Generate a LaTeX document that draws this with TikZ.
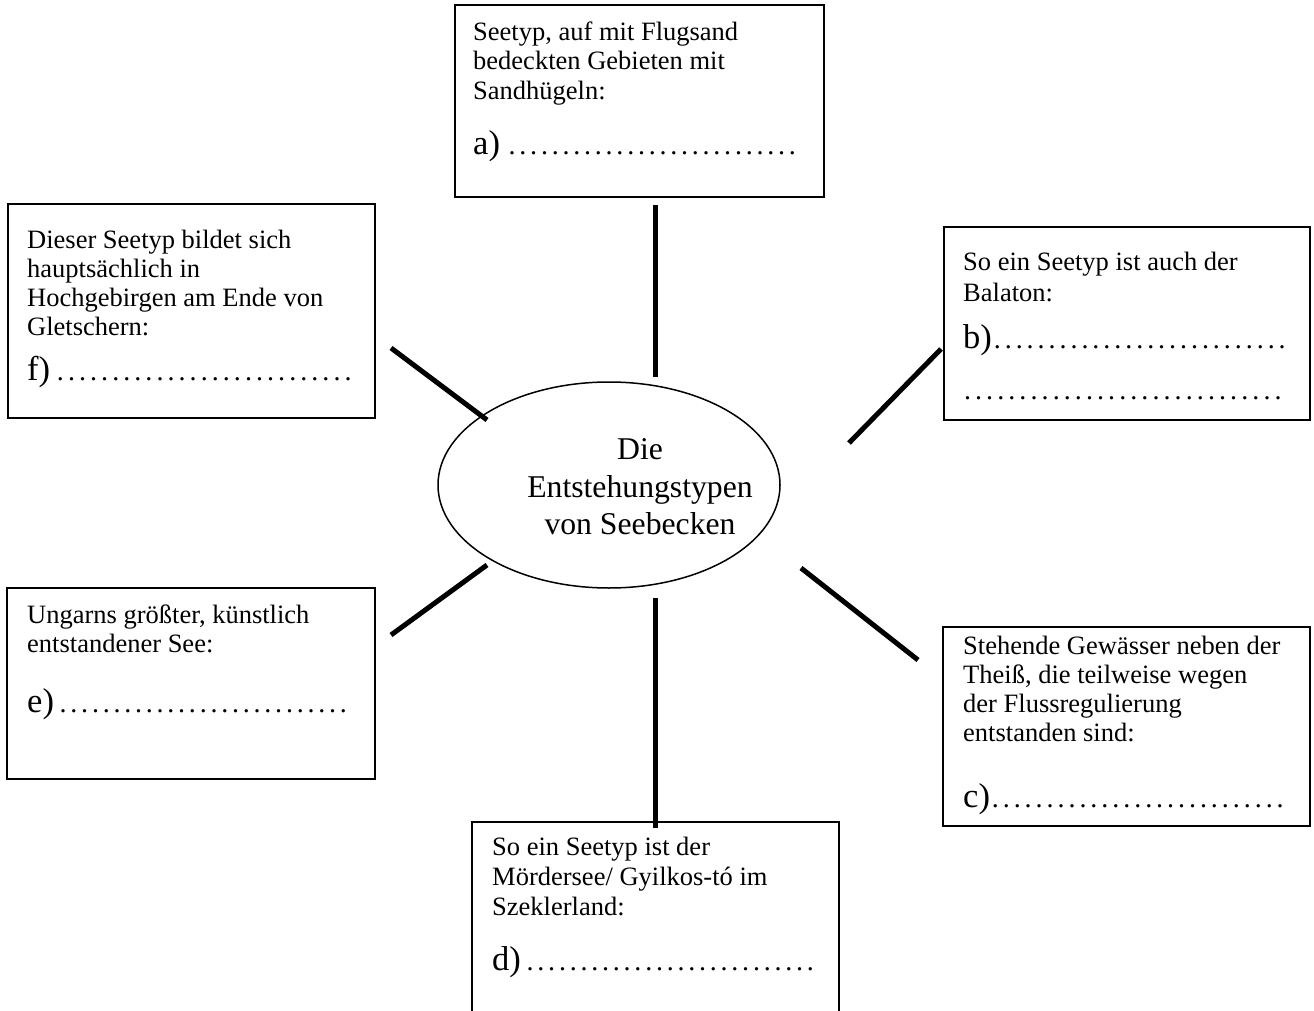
\documentclass[tikz,border=0pt]{standalone}
\usepackage{fontspec}
\setmainfont{Liberation Serif}
\usetikzlibrary{shapes.geometric}
\newcommand\dotrow[1]{\hbox to #1{\xleaders\hbox to 10.77pt{\hss.\hss}\hfill}}
\tikzset{
  box/.style={draw=black, line width=1.5pt, rectangle, inner sep=0pt},
  txt/.style={anchor=base west, inner sep=0pt, font=\fontsize{26.5pt}{29.5pt}\selectfont},
  ans/.style={anchor=base west, inner sep=0pt, font=\fontsize{34.5pt}{36pt}\selectfont},
  dots/.style={anchor=base west, inner sep=0pt, font=\fontsize{28pt}{30pt}\selectfont},
  spoke/.style={line width=5pt},
  hub/.style={draw=black, line width=1.5pt, ellipse, minimum width=342pt, minimum height=206pt, inner sep=0pt},
  hubtxt/.style={anchor=base, inner sep=0pt, font=\fontsize{31.7pt}{37pt}\selectfont}
}
\begin{document}
\begin{tikzpicture}[x=1pt,y=-1pt]
\clip (0,0) rectangle (1314,1011);
\fill[white] (0,0) rectangle (1314,1011);

% central ellipse
\node[hub] (hub) at (609,485) {};
\node[hubtxt] (h1) at (640,459) {Die};
\node[hubtxt] (h2) at (640,497) {Entstehungstypen};
\node[hubtxt] (h3) at (640,534) {von Seebecken};

% boxes
\node[box, minimum width=369pt, minimum height=192pt] (ba) at (639.5,101) {};
\node[box, minimum width=367pt, minimum height=214pt] (bf) at (191.5,311) {};
\node[box, minimum width=366pt, minimum height=193pt] (bb) at (1127,323.5) {};
\node[box, minimum width=368pt, minimum height=191pt] (be) at (191,683.5) {};
\node[box, minimum width=367pt, minimum height=199pt] (bc) at (1126.5,726.5) {};
\node[box, minimum width=367pt, minimum height=240pt] (bd) at (655.5,942) {};

% box a
\node[txt] (a1) at (473,41) {Seetyp, auf mit Flugsand};
\node[txt] (a2) at (473,70) {bedeckten Gebieten mit};
\node[txt] (a3) at (473,100) {Sandhügeln:};
\node[ans] (a4) at (473,155) {a)};
\node[dots] (a5) at (506.6,155) {\dotrow{291pt}};

% box f
\node[txt] (f1) at (27,248) {Dieser Seetyp bildet sich};
\node[txt] (f2) at (27,277) {hauptsächlich in};
\node[txt] (f3) at (27,306) {Hochgebirgen am Ende von};
\node[txt] (f4) at (27,335) {Gletschern:};
\node[ans] (f5) at (27,380) {f)};
\node[dots] (f6) at (54.6,380) {\dotrow{299pt}};

% box b
\node[txt] (b1) at (963,270) {So ein Seetyp ist auch der};
\node[txt] (b2) at (963,301) {Balaton:};
\node[ans] (b3) at (963,348) {b)};
\node[dots] (b4) at (991.6,348) {\dotrow{296pt}};
\node[dots] (b5) at (961.6,399) {\dotrow{322pt}};

% box e
\node[txt] (e1) at (27,623) {Ungarns größter, künstlich};
\node[txt] (e2) at (27,652) {entstandener See:};
\node[ans] (e3) at (27,712) {e)};
\node[dots] (e4) at (57.6,712) {\dotrow{291pt}};

% box c
\node[txt] (c1) at (963,654) {Stehende Gewässer neben der};
\node[txt] (c2) at (963,683) {Theiß, die teilweise wegen};
\node[txt] (c3) at (963,712) {der Flussregulierung};
\node[txt] (c4) at (963,741) {entstanden sind:};
\node[ans] (c5) at (963,807) {c)};
\node[dots] (c6) at (989.6,807) {\dotrow{296pt}};

% box d
\node[txt] (d1) at (492,855) {So ein Seetyp ist der};
\node[txt] (d2) at (492,885) {Mördersee/ Gyilkos-tó im};
\node[txt] (d3) at (492,915) {Szeklerland:};
\node[ans] (d4) at (492,970) {d)};
\node[dots] (d5) at (524.6,970) {\dotrow{291pt}};

% spoke end points
\coordinate (ta) at (655,205);
\coordinate (ha) at (655,377);
\coordinate (tf) at (391,348);
\coordinate (hf) at (487,420);
\coordinate (tb) at (941,349);
\coordinate (hb) at (849,443);
\coordinate (te) at (391,635);
\coordinate (he) at (487,565);
\coordinate (tc) at (918,660);
\coordinate (hc) at (801,568);
\coordinate (td) at (655,828);
\coordinate (hd) at (655,598);

\draw[spoke] (ta) -- (ha);
\draw[spoke] (tf) -- (hf);
\draw[spoke] (tb) -- (hb);
\draw[spoke] (te) -- (he);
\draw[spoke] (tc) -- (hc);
\draw[spoke] (hd) -- (td);
\end{tikzpicture}
\end{document}
